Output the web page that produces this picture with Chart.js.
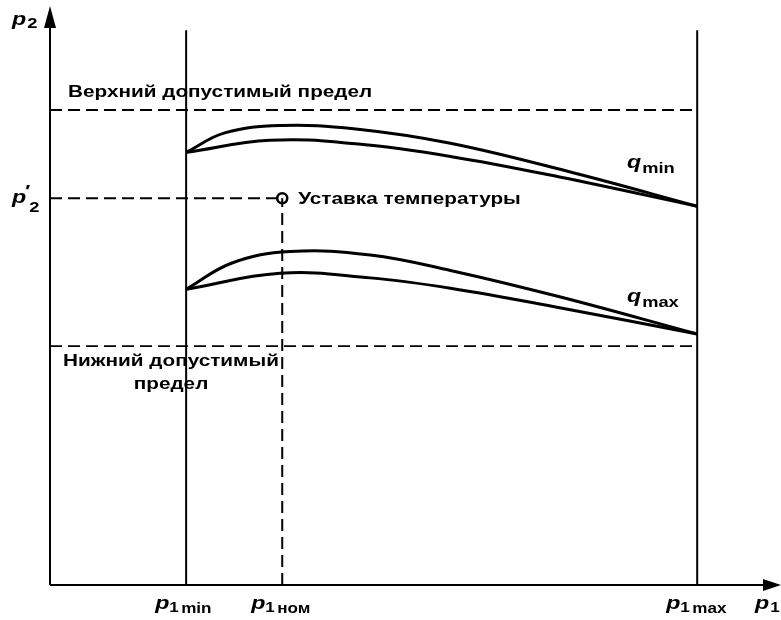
<!DOCTYPE html>
<html>
<head>
<meta charset="utf-8">
<script src="https://cdn.jsdelivr.net/npm/chart.js@4"></script>
<style>
  html, body { margin:0; padding:0; background:#fff; }
  #wrap { width:781px; height:620px; position:relative; }
</style>
</head>
<body>
<div id="wrap"><canvas id="chart"></canvas></div>
<script>
// ---- DATA ----
// x: p1 (0..100 along the axis), y: p2 (0..100 along the axis)
const p1Ticks = [18.7, 31.9, 88.9];            // p1 min, p1 ном, p1 max
const p1TickNames = ['min', 'ном', 'max'];
const upperLimit = 82.9;
const lowerLimit = 41.7;
const setpoint = { x: 31.9, y: 67.5 };
const vTop = 96.8;

const qMinUpperX = [18.7, 24.0, 31.6, 42.0, 55.0, 72.0, 88.9];
const qMinUpperY = [75.5, 78.9, 80.2, 79.6, 77.1, 71.9, 66.1];
const qMinLowerX = [18.7, 30.2, 42.0, 55.0, 70.0, 88.9];
const qMinLowerY = [75.5, 77.6, 77.0, 74.8, 71.2, 66.1];
const qMaxUpperX = [18.7, 25.0, 33.0, 44.0, 55.0, 70.0, 88.9];
const qMaxUpperY = [51.6, 56.2, 58.2, 57.6, 54.9, 50.3, 43.8];
const qMaxLowerX = [18.7, 31.6, 44.0, 55.0, 70.0, 88.9];
const qMaxLowerY = [51.6, 54.4, 53.6, 51.8, 48.4, 43.8];

const FONT = '"Liberation Sans", Arial, sans-serif';
const SX = 1.22; // the reference lettering is wider than Liberation Sans
const pts = (xs, ys) => xs.map((x, i) => ({ x, y: ys[i] }));

function curve(xs, ys) {
  return { data: pts(xs, ys), borderColor:'#000', borderWidth:3, pointRadius:0, showLine:true,
           tension:0.4, fill:false };
}
function segment(a, b, dash, w) {
  return { data:[a, b], borderColor:'#000', borderWidth:w || 2, pointRadius:0, showLine:true,
           borderDash: dash || [], fill:false, tension:0 };
}

const dashed = [12, 6];
const datasets = [
  segment({x:p1Ticks[0], y:0}, {x:p1Ticks[0], y:vTop}, null, 2),
  segment({x:p1Ticks[2], y:0}, {x:p1Ticks[2], y:vTop}, null, 2),
  segment({x:0, y:upperLimit}, {x:p1Ticks[2], y:upperLimit}, dashed, 1.8),
  segment({x:0, y:lowerLimit}, {x:p1Ticks[2], y:lowerLimit}, dashed, 1.8),
  segment({x:0, y:setpoint.y}, {x:setpoint.x, y:setpoint.y}, dashed, 1.8),
  segment({x:setpoint.x, y:0}, {x:setpoint.x, y:setpoint.y}, dashed, 2),
  curve(qMinUpperX, qMinUpperY),
  curve(qMinLowerX, qMinLowerY),
  curve(qMaxUpperX, qMaxUpperY),
  curve(qMaxLowerX, qMaxLowerY),
  { data:[setpoint], pointRadius:5, pointBackgroundColor:'#fff', pointBorderColor:'#000',
    pointBorderWidth:2.5, showLine:false }
];

// ---- AXES + LABELS ----
// stretched text, returns drawn width
function txt(ctx, s, x, y, font, align) {
  ctx.font = font;
  const w = ctx.measureText(s).width * SX;
  const left = align === 'center' ? x - w / 2 : x;
  ctx.save();
  ctx.translate(left, y); ctx.scale(SX, 1);
  ctx.textAlign = 'left';
  ctx.fillText(s, 0, 0);
  ctx.restore();
  return w;
}
function subText(ctx, x, y, main, sub, mainSize, subSize, subDy, prime) {
  let w = txt(ctx, main, x, y, 'italic bold ' + mainSize + 'px ' + FONT);
  if (prime) {
    txt(ctx, '′', x + w - 1, y - 6, 'bold ' + (mainSize - 2) + 'px ' + FONT);
    w += 2;
  }
  txt(ctx, sub, x + w + 1, y + subDy, 'bold ' + subSize + 'px ' + FONT);
}

const drawing = {
  id: 'drawing',
  afterDatasetsDraw(chart) {
    const ctx = chart.ctx, xs = chart.scales.x, ys = chart.scales.y;
    const x0 = xs.getPixelForValue(0), y0 = ys.getPixelForValue(0);
    ctx.save();
    ctx.strokeStyle = '#000'; ctx.fillStyle = '#000'; ctx.lineWidth = 2;
    // axes
    ctx.beginPath();
    ctx.moveTo(x0, y0); ctx.lineTo(x0, 22);
    ctx.moveTo(x0, y0); ctx.lineTo(chart.width - 12, y0);
    ctx.stroke();
    ctx.beginPath();
    ctx.moveTo(x0, 6); ctx.lineTo(x0 - 6, 28); ctx.lineTo(x0 + 6, 28); ctx.closePath(); ctx.fill();
    ctx.beginPath();
    ctx.moveTo(chart.width, y0); ctx.lineTo(chart.width - 18, y0 - 6); ctx.lineTo(chart.width - 18, y0 + 6);
    ctx.closePath(); ctx.fill();

    ctx.textBaseline = 'alphabetic';
    // axis names
    subText(ctx, 12, 25, 'p', '2', 19, 15, 3);
    subText(ctx, 12, 203, 'p', '2', 19, 15, 9, true);
    subText(ctx, 755, 609, 'p', '1', 19, 14, 3);
    // p1 ticks
    p1Ticks.forEach((v, i) => {
      const px = xs.getPixelForValue(v) - 31;
      txt(ctx, 'p', px, 609, 'italic bold 19px ' + FONT);
      txt(ctx, '1', px + 14, 612, 'bold 14px ' + FONT);
      txt(ctx, p1TickNames[i], px + 26, 613, 'bold 14px ' + FONT);
    });
    // curve names
    subText(ctx, 627, 168, 'q', 'min', 19, 15, 5);
    subText(ctx, 627, 302, 'q', 'max', 19, 15, 5);

    // texts
    const f = 'bold 17px ' + FONT;
    txt(ctx, 'Верхний допустимый предел', 68, ys.getPixelForValue(upperLimit) - 13, f);
    txt(ctx, 'Уставка температуры', xs.getPixelForValue(setpoint.x) + 16, ys.getPixelForValue(setpoint.y) + 6, f);
    txt(ctx, 'Нижний допустимый', 171, ys.getPixelForValue(lowerLimit) + 20, f, 'center');
    txt(ctx, 'предел', 171, ys.getPixelForValue(lowerLimit) + 43, f, 'center');
    ctx.restore();
  }
};

new Chart(document.getElementById('chart'), {
  type: 'scatter',
  data: { datasets },
  options: {
    responsive: true, maintainAspectRatio: false, animation: false,
    layout: { autoPadding: false, padding: { left: 50, right: 3, top: 12, bottom: 35 } },
    plugins: { legend: { display: false }, tooltip: { enabled: false } },
    scales: {
      x: { type: 'linear', min: 0, max: 100, display: false },
      y: { type: 'linear', min: 0, max: 100, display: false }
    }
  },
  plugins: [drawing]
});
</script>
</body>
</html>
